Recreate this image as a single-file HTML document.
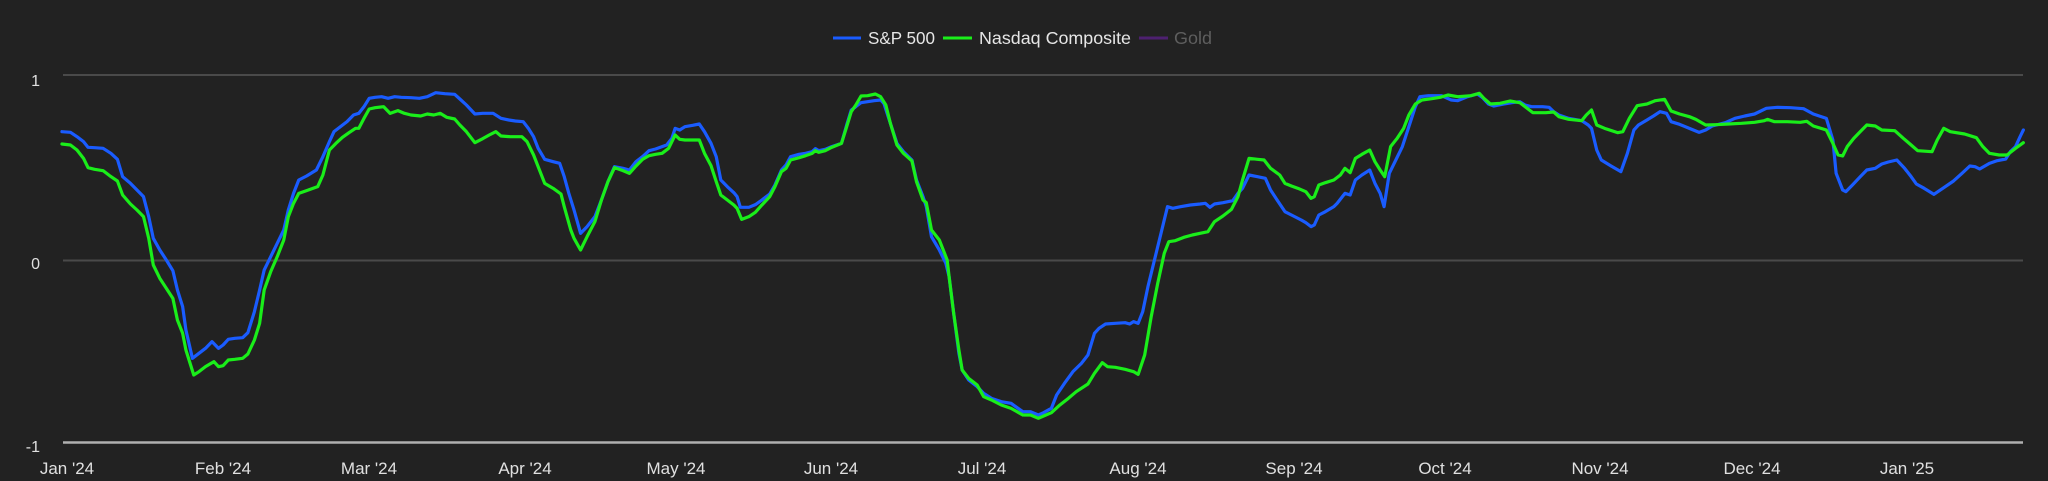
<!DOCTYPE html>
<html><head><meta charset="utf-8"><style>
html,body{margin:0;padding:0;background:#222222;}
svg{display:block;}
text{font-family:"Liberation Sans",sans-serif;}
</style></head><body>
<svg width="2048" height="481" viewBox="0 0 2048 481" xmlns="http://www.w3.org/2000/svg">
<rect width="2048" height="481" fill="#222222"/>
<line x1="63" y1="75" x2="2023" y2="75" stroke="#4a4a4a" stroke-width="2"/>
<line x1="63" y1="260.5" x2="2023" y2="260.5" stroke="#4a4a4a" stroke-width="2"/>
<line x1="63" y1="442.5" x2="2023" y2="442.5" stroke="#b0b0b0" stroke-width="2.5"/>
<g fill="#e0e0e0" font-size="16" text-anchor="end">
<text x="40" y="86">1</text>
<text x="40" y="269">0</text>
<text x="40" y="452">-1</text>
</g>
<g fill="#e0e0e0" font-size="17" text-anchor="middle">
<text x="67" y="474">Jan '24</text>
<text x="223" y="474">Feb '24</text>
<text x="369" y="474">Mar '24</text>
<text x="525" y="474">Apr '24</text>
<text x="676" y="474">May '24</text>
<text x="831" y="474">Jun '24</text>
<text x="982" y="474">Jul '24</text>
<text x="1138" y="474">Aug '24</text>
<text x="1294" y="474">Sep '24</text>
<text x="1445" y="474">Oct '24</text>
<text x="1600" y="474">Nov '24</text>
<text x="1752" y="474">Dec '24</text>
<text x="1907" y="474">Jan '25</text>
</g>
<g font-size="17.5">
<line x1="833" y1="38" x2="861" y2="38" stroke="#1a5cff" stroke-width="3"/>
<text x="868" y="44" fill="#e6e6e6" textLength="67" lengthAdjust="spacingAndGlyphs">S&amp;P 500</text>
<line x1="943" y1="38" x2="972" y2="38" stroke="#1aee1a" stroke-width="3"/>
<text x="979" y="44" fill="#e6e6e6" textLength="152" lengthAdjust="spacingAndGlyphs">Nasdaq Composite</text>
<line x1="1139" y1="38" x2="1168" y2="38" stroke="#4d2070" stroke-width="3"/>
<text x="1174" y="44" fill="#5e5e5e" textLength="38" lengthAdjust="spacingAndGlyphs">Gold</text>
</g>
<g fill="none" stroke-width="3.2" stroke-linejoin="round" stroke-linecap="round">
<g transform="scale(0.65231,0.33333)">
<polyline vector-effect="non-scaling-stroke" stroke="#1a5cff" points="95,395 108,397 118,410 128,425 135,442 145,443 158,445 170,460 180,478 188,530 200,550 210,570 220,590 228,650 235,715 245,750 255,780 265,812 272,870 280,920 285,990 295,1075 305,1060 315,1045 325,1025 335,1045 342,1035 350,1018 360,1015 372,1013 380,998 390,935 398,870 405,810 415,770 425,730 435,690 442,630 450,580 458,540 470,528 485,510 495,470 505,425 512,395 522,380 532,365 542,345 550,340 558,320 566,295 575,292 585,290 595,295 605,290 615,292 630,293 643,295 655,290 668,278 682,281 697,283 705,297 715,315 728,342 740,340 756,340 768,355 780,360 790,363 802,365 810,385 818,410 825,445 835,478 848,485 858,490 865,530 872,580 880,630 890,700 900,680 912,650 922,600 932,545 942,500 955,505 965,510 975,485 985,470 995,452 1005,447 1015,440 1022,435 1030,415 1035,385 1042,390 1050,380 1062,376 1072,372 1080,395 1090,430 1098,470 1105,540 1115,560 1125,578 1130,590 1135,622 1148,622 1158,614 1168,600 1180,582 1188,555 1198,510 1205,495 1212,470 1225,463 1235,460 1245,455 1250,446 1255,452 1265,448 1275,440 1290,430 1298,375 1305,330 1312,320 1320,308 1330,305 1340,302 1350,300 1355,310 1365,370 1375,430 1385,455 1398,480 1405,540 1415,590 1420,620 1428,710 1440,750 1450,790 1455,830 1462,940 1470,1060 1475,1110 1485,1140 1498,1160 1508,1180 1520,1195 1535,1205 1550,1210 1568,1235"/>
<polyline vector-effect="non-scaling-stroke" stroke="#1aee1a" points="95,432 108,435 118,450 128,475 135,503 145,508 158,512 168,527 180,543 188,585 200,612 210,630 220,650 228,715 235,795 245,835 255,865 265,895 272,960 280,1000 285,1050 297,1125 305,1115 315,1100 328,1085 335,1100 342,1097 350,1080 360,1078 372,1075 380,1062 390,1020 398,970 405,870 415,815 425,770 435,720 442,650 450,610 458,580 470,572 487,560 495,525 505,450 515,430 525,412 535,398 545,385 550,385 558,355 566,327 575,323 588,320 598,340 610,332 620,340 630,345 645,348 655,342 665,345 675,340 685,352 697,357 705,375 715,395 728,428 740,416 750,405 760,395 768,408 782,410 800,410 808,425 818,465 825,500 835,550 848,565 860,582 865,620 875,690 880,715 890,750 900,710 912,665 922,600 932,545 942,503 955,512 965,520 975,498 985,478 995,467 1005,463 1015,460 1025,445 1035,405 1042,418 1050,420 1062,420 1072,420 1080,460 1090,497 1098,545 1105,585 1115,600 1125,615 1130,625 1137,658 1148,650 1158,637 1168,615 1180,590 1188,560 1198,515 1205,505 1212,480 1225,473 1235,467 1245,460 1250,452 1255,457 1265,452 1275,442 1290,430 1298,380 1305,335 1312,315 1320,288 1330,287 1342,282 1350,290 1358,315 1365,370 1375,435 1385,460 1398,483 1405,545 1415,600 1420,608 1428,690 1440,720 1452,780 1455,830 1462,940 1470,1050 1475,1110 1485,1135 1498,1155 1508,1190 1520,1200 1535,1215 1550,1225 1568,1245"/>
</g>
<g transform="translate(1024,0) scale(0.65231,0.33333)">
<polyline vector-effect="non-scaling-stroke" stroke="#1a5cff" points="0,1235 10,1235 22,1245 30,1238 42,1225 50,1185 62,1150 75,1115 88,1090 98,1065 108,1000 115,985 125,972 140,970 155,968 162,972 168,965 175,970 182,935 190,860 200,780 210,700 220,620 228,625 240,620 255,615 270,612 278,610 285,622 292,612 305,608 320,602 328,580 335,565 345,525 358,530 370,535 378,570 388,600 400,635 410,645 425,660 432,668 440,680 445,675 452,645 462,635 475,620 480,610 492,580 500,585 508,540 518,525 530,510 538,550 546,580 552,620 560,520 570,480 580,440 590,380 600,320 607,290 620,287 640,287 655,300 665,302 680,290 695,282 703,293 712,312 720,318 735,312 748,308 760,305 768,315 778,320 795,320 805,322 812,335 820,345 835,355 855,362 865,375 870,385 878,450 885,480 900,498 915,515 925,460 935,390 942,375 955,360 965,348 975,335 985,340 992,365 1005,373 1020,385 1035,397 1045,390 1055,378 1075,368 1090,355 1105,348 1120,342 1138,325 1155,322 1175,323 1195,326 1210,342 1230,355 1240,420 1245,520 1255,570 1260,575 1270,555 1282,530 1292,510 1305,505 1315,492 1325,486 1338,480 1350,505 1360,530 1368,552 1380,565 1395,583 1410,563 1425,543 1438,520 1450,498 1458,500 1465,507 1480,490 1492,482 1505,477 1512,455 1520,440 1527,410 1532,390"/>
<polyline vector-effect="non-scaling-stroke" stroke="#1aee1a" points="0,1245 10,1245 22,1255 30,1248 42,1238 55,1215 68,1195 80,1175 98,1152 108,1120 120,1088 128,1100 140,1102 155,1108 168,1115 175,1123 185,1065 195,950 205,850 215,760 222,725 232,722 245,712 258,705 270,700 282,695 292,665 305,648 318,628 328,590 335,540 345,475 358,478 368,480 378,505 392,525 400,550 410,558 420,565 432,575 440,595 445,590 452,555 462,548 475,540 485,525 492,505 500,518 508,475 518,463 530,450 538,485 546,510 553,530 562,440 572,415 582,385 590,345 600,312 610,300 625,296 638,292 650,285 665,290 685,287 698,280 705,295 715,312 730,310 745,303 760,308 768,320 780,338 800,338 812,336 820,350 835,358 855,362 862,345 870,330 878,375 890,385 910,398 918,395 928,355 940,317 955,312 968,302 982,298 992,333 1005,342 1020,350 1030,358 1045,375 1060,374 1080,372 1100,370 1120,367 1135,362 1140,358 1150,365 1170,365 1190,367 1200,364 1210,378 1230,390 1240,430 1248,465 1255,468 1262,440 1272,415 1282,395 1292,375 1305,378 1315,390 1335,392 1348,415 1360,435 1370,452 1392,455 1400,420 1410,385 1420,395 1442,402 1460,413 1470,440 1480,460 1495,465 1507,465 1520,445 1532,428"/>
</g>
</g>
</svg>
</body></html>
